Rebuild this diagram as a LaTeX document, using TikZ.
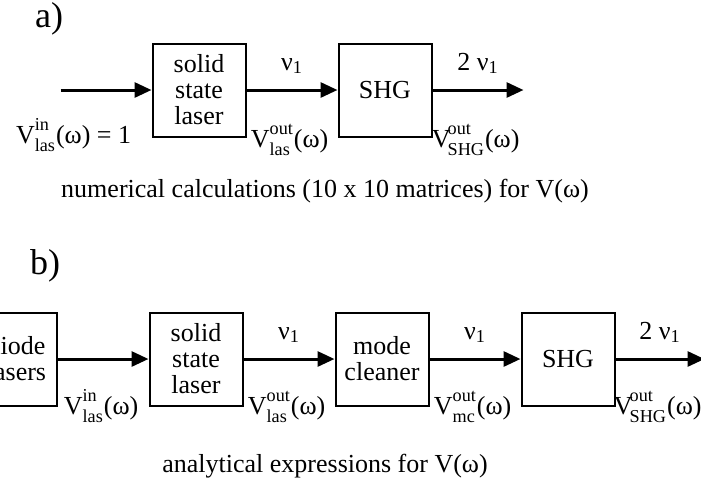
\documentclass[tikz,border=0pt]{standalone}
\usepackage{amsmath,fontspec}
\setmainfont{Liberation Serif}
\usetikzlibrary{arrows.meta,positioning}
\newcommand{\Vfn}[3][0pt]{V\kern#1$^{\raisebox{2pt}{$\scriptstyle\text{#2}$}}_{\raisebox{-1pt}{$\scriptstyle\text{#3}$}}$(ω)}
\newcommand{\nuone}{ν$_{\text{1}}$}
\begin{document}
\begin{tikzpicture}[x=0.5pt,y=-0.5pt,font=\fontsize{13}{13}\selectfont,node distance=45.5pt,box/.style={draw,line width=1pt,align=center,minimum width=46.5pt,minimum height=46.5pt,inner sep=1pt},arr/.style={line width=1.5pt,-{Triangle[length=8.5pt,width=7.5pt]}},lab/.style={inner sep=0pt,anchor=base west},tag/.style={font=\fontsize{18}{20}\selectfont}]
\useasboundingbox (0,0) rectangle (701,489);
\node[tag] (ta) at (49,19) {a)};
\node[box] (lasa) at (199,90) {solid\\state\\laser};
\node[box,right=of lasa] (shga) {SHG};
\coordinate[left=of lasa] (ina);
\coordinate[right=of shga] (outa);
\node[lab,anchor=base east] (vina) at ([xshift=-10pt,yshift=-3pt]lasa.south west) {\Vfn{in}{las} = 1};
\node[lab] (vouta) at ([xshift=2pt,yshift=-5pt]lasa.south east) {\Vfn{out}{las}};
\node[lab] (vshga) at ([xshift=-0.5pt,yshift=-5pt]shga.south east) {\Vfn[-1.5pt]{out}{SHG}};
\node[anchor=base] (numa) at (325,197) {numerical calculations (10 x 10 matrices) for V(ω)};
\draw[arr](ina)--(lasa);\draw[arr](lasa)--node[above=4pt]{\nuone}(shga);\draw[arr](shga)--node[above=4pt]{2 \nuone}(outa);
\node[tag] (tb) at (45,266) {b)};
\node[box] (lasb) at (196,359) {solid\\state\\laser};
\node[box,left=of lasb,minimum width=40pt] (diode) {diode\\lasers};
\node[box,right=of lasb] (mc) {mode\\cleaner};
\node[box,right=of mc] (shgb) {SHG};
\coordinate[right=44.5pt of shgb] (outb);
\node[lab] (vinb) at ([xshift=3pt,yshift=-4pt]diode.south east) {\Vfn{in}{las}};
\node[lab] (voutb) at ([xshift=2pt,yshift=-4pt]lasb.south east) {\Vfn{out}{las}};
\node[lab] (vmcb) at ([xshift=2pt,yshift=-4pt]mc.south east) {\Vfn{out}{mc}};
\node[lab] (vshgb) at ([xshift=-1pt,yshift=-4pt]shgb.south east) {\Vfn[-1.5pt]{out}{SHG}};
\node[anchor=base] (anab) at (325,472) {analytical expressions for V(ω)};
\draw[arr](diode)--(lasb);\draw[arr](lasb)--node[above=4pt]{\nuone}(mc);\draw[arr](mc)--node[above=4pt]{\nuone}(shgb);
\draw[arr](shgb)--node[above=4pt]{2 \nuone}(outb);
\end{tikzpicture}
\end{document}
